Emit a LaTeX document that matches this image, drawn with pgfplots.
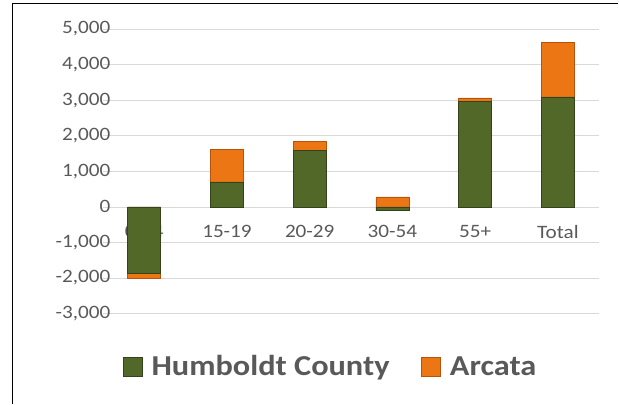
\documentclass[border=0pt]{standalone}
\usepackage{pgfplots}
\pgfplotsset{compat=1.18}
\usepackage{pgfplotstable}
\usepackage{fontspec}
\setmainfont{Carlito}[FakeStretch=1.12]
\definecolor{grnD}{HTML}{34431A}
\definecolor{grnM}{HTML}{516829}
\definecolor{orgD}{HTML}{B8530C}
\definecolor{orgM}{HTML}{EC7614}
\definecolor{tickgray}{HTML}{595959}
\definecolor{gridgray}{HTML}{D9D9D9}
\pgfplotstableread{
x h a
0 -1870 -130
1 700 910
2 1590 250
3 -110 280
4 2960 100
5 3090 1540
}\data
\begin{document}
\begin{tikzpicture}
\path (-103bp,-90bp) rectangle (516bp,314bp);
\draw[line width=1.5bp] (-90.5bp,-90bp) -- (-90.5bp,310.5bp) -- (516bp,310.5bp);
\begin{axis}[
  at={(0,0)}, anchor=south west,
  scale only axis, width=497bp, height=285bp,
  xmin=-0.5, xmax=5.5, ymin=-3000, ymax=5000,
  ytick={-3000,-2000,...,5000},
  xtick={0,...,5},
  xticklabels={0-14,15-19,20-29,30-54,55+,Total},
  axis x line*=middle, axis y line*=left,
  x axis line style={draw=gridgray, line width=0.75bp},
  y axis line style={draw=none},
  major tick length=0pt,
  ymajorgrids, grid style={draw=gridgray, line width=0.75bp},
  tick label style={font=\fontsize{19}{21}\selectfont, text=tickgray},
  yticklabel style={xshift=11bp},
  xticklabel style={yshift=-15bp},
  /pgf/number format/.cd, 1000 sep={,}, assume math mode=true,
  /pgfplots/.cd,
  legend style={at={(0.459,-0.186)}, anchor=center, draw=none, fill=none,
    legend columns=2, font=\bfseries\fontsize{29}{31}\selectfont, text=tickgray,
    /tikz/every odd column/.append style={column sep=7bp},
    /tikz/every even column/.append style={column sep=30bp}},
  legend image code/.code={\path[#1] (0bp,-9.5bp) rectangle (19bp,9.5bp);},
]
\addplot[ybar, bar width=33bp, bar shift=0pt, draw=orgD, line width=0.6bp,
  fill=orgM, forget plot]
  table[x=x, y expr={((\thisrow{h}/1000)*(\thisrow{a}/1000)>0) ? (\thisrow{h}+\thisrow{a}) : \thisrow{a}}] {\data};
\addplot[ybar, bar width=33bp, bar shift=0pt, draw=grnD, line width=0.6bp,
  fill=grnM, forget plot]
  table[x=x, y=h] {\data};
\addlegendimage{draw=grnD, fill=grnM, line width=0.6bp}
\addlegendentry{Humboldt County}
\addlegendimage{draw=orgD, fill=orgM, line width=0.6bp}
\addlegendentry{Arcata}
\end{axis}
\end{tikzpicture}
\end{document}
